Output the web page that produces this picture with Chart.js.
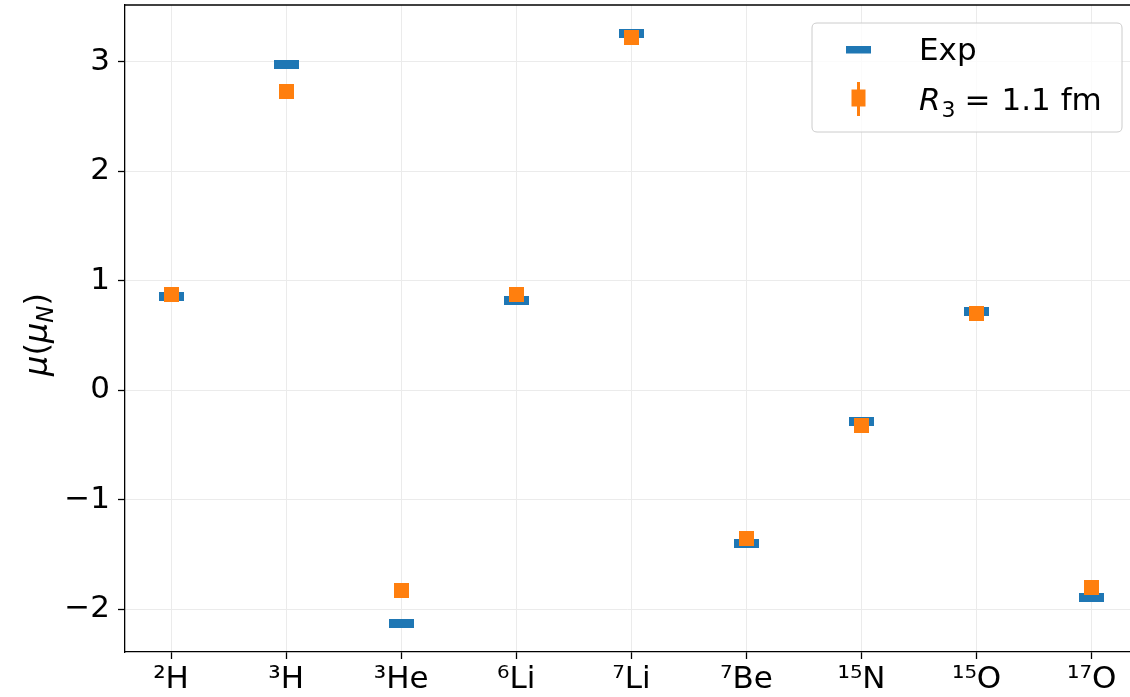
<!DOCTYPE html>
<html>
<head>
<meta charset="utf-8">
<script src="https://cdn.jsdelivr.net/npm/chart.js@4.4.1/dist/chart.umd.min.js"></script>
<style>
html,body{margin:0;padding:0;background:#fff;}
#wrap{width:1130px;height:697px;}
</style>
</head>
<body>
<div id="wrap"><canvas id="c" width="1130" height="697"></canvas></div>
<script>
// ---- data ----
const categories = ['\u00B2H', '\u00B3H', '\u00B3He', '\u2076Li', '\u2077Li', '\u2077Be', '\u00B9\u2075N', '\u00B9\u2075O', '\u00B9\u2077O'];
const expValues = [0.857, 2.979, -2.128, 0.822, 3.256, -1.398, -0.283, 0.719, -1.894];
const theoryValues = [0.88, 2.73, -1.83, 0.88, 3.22, -1.355, -0.32, 0.70, -1.80];
const yTicks = [-2, -1, 0, 1, 2, 3];
const seriesNames = ['Exp', 'R\u2083 = 1.1 fm'];

const BLUE = '#1f77b4', ORANGE = '#ff7f0e';
const FONT = "'DejaVu Sans'";

function makeRect(w, h, color) {
  const c = document.createElement('canvas');
  c.width = w; c.height = h;
  const g = c.getContext('2d');
  g.fillStyle = color;
  g.fillRect(0, 0, w, h);
  return c;
}
const expMarker = makeRect(25, 9, BLUE);
const thMarker = makeRect(15, 15, ORANGE);

const expData = expValues.map((v, i) => ({x: i, y: v}));
const thData = theoryValues.map((v, i) => ({x: i, y: v}));

const extras = {
  id: 'extras',
  afterDraw(chart) {
    const ctx = chart.ctx;
    const a = chart.chartArea;
    ctx.save();
    // top spine
    ctx.strokeStyle = '#000';
    ctx.lineWidth = 1.3;
    ctx.beginPath();
    ctx.moveTo(a.left, a.top);
    ctx.lineTo(a.right + 2, a.top);
    ctx.stroke();

    // legend box
    const lx = 812, ly = 23, lw = 310, lh = 109, r = 5;
    ctx.beginPath();
    ctx.moveTo(lx + r, ly);
    ctx.lineTo(lx + lw - r, ly);
    ctx.quadraticCurveTo(lx + lw, ly, lx + lw, ly + r);
    ctx.lineTo(lx + lw, ly + lh - r);
    ctx.quadraticCurveTo(lx + lw, ly + lh, lx + lw - r, ly + lh);
    ctx.lineTo(lx + r, ly + lh);
    ctx.quadraticCurveTo(lx, ly + lh, lx, ly + lh - r);
    ctx.lineTo(lx, ly + r);
    ctx.quadraticCurveTo(lx, ly, lx + r, ly);
    ctx.closePath();
    ctx.fillStyle = 'rgba(255,255,255,0.8)';
    ctx.fill();
    ctx.strokeStyle = '#cccccc';
    ctx.lineWidth = 1;
    ctx.stroke();

    // legend markers
    ctx.fillStyle = BLUE;
    ctx.fillRect(846, 46, 25, 7.5);
    ctx.strokeStyle = ORANGE;
    ctx.lineWidth = 3;
    ctx.beginPath();
    ctx.moveTo(858.5, 82); ctx.lineTo(858.5, 116); ctx.stroke();
    ctx.fillStyle = ORANGE;
    ctx.fillRect(851.5, 89.5, 14, 17);

    // legend texts
    ctx.fillStyle = '#000';
    ctx.textBaseline = 'alphabetic';
    ctx.textAlign = 'left';
    ctx.font = '31px ' + FONT;
    ctx.fillText(seriesNames[0], 919, 60);
    let x = 919;
    ctx.font = 'italic 31px ' + FONT;
    ctx.fillText('R', x, 110);
    x += ctx.measureText('R').width + 1;
    ctx.font = '22px ' + FONT;
    ctx.fillText('3', x, 117);
    x += ctx.measureText('3').width + 9;
    ctx.font = '31px ' + FONT;
    ctx.fillText('=', x, 110);
    x += ctx.measureText('=').width + 11;
    ctx.fillText('1.1 fm', x, 110);

    // y axis label  mu(mu_N)
    ctx.translate(47, (a.top + a.bottom) / 2 + 6);
    ctx.rotate(-Math.PI / 2);
    const parts = [
      {t: '\u03BC', f: 'italic 32px ' + FONT, dy: 0},
      {t: '(', f: '32px ' + FONT, dy: 0},
      {t: '\u03BC', f: 'italic 32px ' + FONT, dy: 0},
      {t: 'N', f: 'italic 23px ' + FONT, dy: 6},
      {t: ')', f: '32px ' + FONT, dy: 0}
    ];
    let tw = 0;
    parts.forEach(p => { ctx.font = p.f; p.w = ctx.measureText(p.t).width; tw += p.w; });
    let px = -tw / 2;
    parts.forEach(p => { ctx.font = p.f; ctx.fillText(p.t, px, p.dy); px += p.w; });
    ctx.restore();
  }
};

new Chart(document.getElementById('c'), {
  type: 'scatter',
  data: {
    datasets: [
      {label: seriesNames[0], data: expData, pointStyle: expMarker, pointRadius: 12, order: 2},
      {label: seriesNames[1], data: thData, pointStyle: thMarker, pointRadius: 8, order: 1}
    ]
  },
  options: {
    responsive: false,
    animation: false,
    layout: {autoPadding: false, padding: {top: 5, right: 0, left: 0, bottom: 0}},
    plugins: {legend: {display: false}, tooltip: {enabled: false}},
    scales: {
      x: {
        type: 'linear',
        min: -0.4,
        max: 8.333,
        afterBuildTicks: s => { s.ticks = categories.map((c, i) => ({value: i})); },
        afterFit: s => { s.height = 45; s.paddingLeft = 0; s.paddingRight = 0; },
        ticks: {
          callback: v => categories[v] ?? '',
          font: {family: FONT, size: 31},
          color: '#000',
          padding: 2,
          maxRotation: 0,
          autoSkip: false
        },
        grid: {color: '#ebebeb', lineWidth: 1, tickColor: '#000', tickLength: 7, tickWidth: 1.3},
        border: {color: '#000', width: 1.3}
      },
      y: {
        min: -2.39,
        max: 3.52,
        afterBuildTicks: s => { s.ticks = yTicks.map(v => ({value: v})); },
        afterFit: s => { s.width = 125; s.paddingTop = 0; s.paddingBottom = 0; },
        ticks: {
          callback: v => (v < 0 ? '\u2212' + Math.abs(v) : String(v)),
          font: {family: FONT, size: 31},
          color: '#000',
          padding: 8
        },
        grid: {color: '#ebebeb', lineWidth: 1, tickColor: '#000', tickLength: 7, tickWidth: 1.3},
        border: {color: '#000', width: 1.3}
      }
    }
  },
  plugins: [extras]
});
</script>
</body>
</html>
